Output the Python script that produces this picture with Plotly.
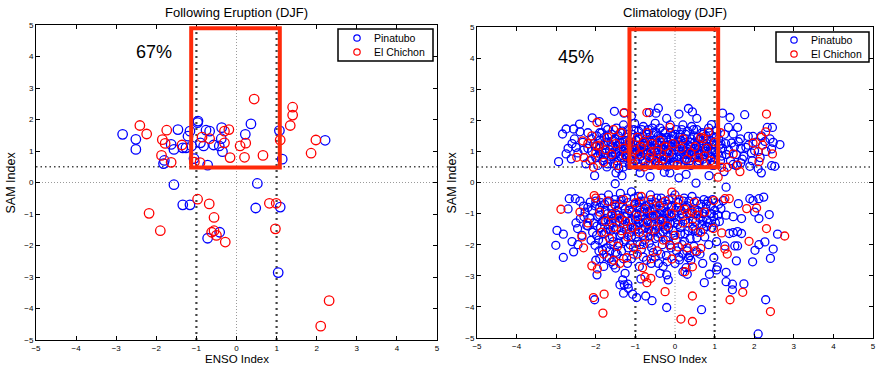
import plotly.graph_objects as go

# ---------------- Left panel: Following Eruption (DJF) ----------------
erupt_pin_x = [-2.84, -2.51, -2.51, -1.46, -1.80, -1.82, -1.63, -1.56, -1.34, -1.26, -1.21, -1.16,
               -1.12, -1.06, -0.96, -0.97, -0.90, -0.82, -0.76, -0.67, -0.72, -0.57, -0.43, -0.38,
               -0.37, -0.35, 0.22, 0.36, 1.07, 1.14, 2.21, -1.56, -1.34, -1.16, -0.72, -0.42,
               0.52, 0.48, 1.09, 1.04]
erupt_pin_y = [1.53, 1.37, 1.05, 1.68, 0.70, 0.60, 1.21, 1.05, 1.10, 1.10, 1.47, 1.63,
               1.16, 0.76, 1.95, 1.90, 1.26, 1.16, 1.66, 1.63, 0.55, 1.19, 1.16, 1.39,
               1.74, 0.98, 1.53, 1.86, 1.65, 0.74, 1.34, -0.07, -0.71, -0.71, -1.77, -1.58,
               -0.03, -0.81, -0.78, -2.86]

erupt_elc_x = [-2.41, -2.24, -1.87, -1.85, -1.78, -1.74, -1.63, -1.36, -1.05, -0.91, -0.86, -0.67,
               -0.30, -0.30, -0.19, -0.16, 0.09, 0.23, 0.20, 0.44, 0.66, 1.09, 1.34, 1.40,
               1.40, 1.86, 1.98, -0.97, -0.68, -0.56, -0.62, -0.56, -0.50, -0.28, -2.18, -1.90,
               0.82, 0.99, 0.97, 2.31, 2.10]
erupt_elc_y = [1.81, 1.54, 0.86, 1.36, 1.24, 1.66, 0.64, 1.19, 0.65, 0.63, 1.44, 1.39,
               1.26, 1.63, 1.68, 0.79, 1.16, 1.25, 0.80, 2.65, 0.86, 1.35, 1.81, 2.39,
               2.14, 0.93, 1.35, -0.53, -0.68, -1.11, -1.58, -1.53, -1.68, -1.89, -0.98, -1.53,
               -0.66, -0.66, -1.47, -3.75, -4.56]

# ---------------- Right panel: Climatology (DJF) ----------------
clim_pin = [
    # upper cluster, outer points
    (-2.94, 0.67), (-2.84, 1.56), (-2.75, 1.72), (-2.75, 0.92), (-2.62, 0.76), (-2.56, 1.72),
    (-2.54, 1.40), (-2.50, 1.13), (-2.41, 1.88), (-2.40, 1.63), (-2.33, 1.29), (-2.09, 2.08),
    (-2.03, 0.22), (-1.91, 1.96), (-1.75, 1.77), (-1.53, 2.29), (-1.29, 2.23), (-1.10, 2.14),
    (-0.65, 2.25), (-0.42, 2.39), (-0.48, 2.23), (-0.21, 2.06), (0.10, 2.20), (0.34, 2.38),
    (0.44, 2.27), (0.55, 2.06), (0.92, 1.86), (1.20, 2.23), (1.39, 2.09), (1.58, 1.77),
    (1.76, 2.18), (1.47, 1.56), (1.35, 1.77), (1.16, 1.24), (1.43, 1.27), (1.60, 1.31),
    (1.66, 1.10), (1.79, 1.13), (1.85, 1.48), (1.97, 1.48), (2.01, 1.02), (1.93, 0.95),
    (1.74, 0.84), (1.66, 0.63), (1.47, 0.58), (1.24, 0.35), (2.18, 1.50), (2.27, 1.32),
    (2.33, 1.77), (2.46, 1.77), (2.48, 1.29), (2.44, 1.08), (2.65, 1.22), (2.44, 0.54),
    (2.52, 0.52), (2.18, 0.31), (2.10, 0.44), (1.89, 0.52), (1.55, 0.54), (0.86, 0.22),
    (0.10, 0.15), (0.28, 0.26), (-0.13, 0.31), (-0.27, 0.33), (-0.63, 0.19), (-0.88, 0.31),
    (-1.34, 0.22), (-1.49, 0.31),
    # upper cluster, dense core
    (-2.10, 1.00), (-2.05, 1.25), (-2.00, 0.80), (-1.98, 1.50), (-1.95, 0.55), (-1.92, 1.10),
    (-1.90, 1.35), (-1.88, 0.90), (-1.85, 1.60), (-1.82, 0.70), (-1.80, 1.20), (-1.78, 1.45),
    (-1.75, 0.95), (-1.72, 0.50), (-1.70, 1.70), (-1.68, 1.30), (-1.65, 1.05), (-1.62, 0.75),
    (-1.60, 1.55), (-1.58, 1.15), (-1.55, 0.60), (-1.52, 1.40), (-1.50, 0.90), (-1.48, 1.75),
    (-1.45, 1.20), (-1.42, 0.45), (-1.40, 1.00), (-1.38, 1.60), (-1.35, 0.80), (-1.32, 1.30),
    (-1.30, 1.85), (-1.28, 0.65), (-1.25, 1.10), (-1.22, 1.45), (-1.20, 0.95), (-1.18, 1.70),
    (-1.15, 0.55), (-1.12, 1.25), (-1.10, 0.85), (-1.08, 1.55), (-1.05, 1.05), (-1.02, 1.90),
    (-1.00, 0.70), (-0.98, 1.35), (-0.95, 1.00), (-0.92, 1.65), (-0.90, 0.50), (-0.88, 1.20),
    (-0.85, 0.85), (-0.82, 1.50), (-0.80, 1.80), (-0.78, 1.05), (-0.75, 0.65), (-0.72, 1.40),
    (-0.70, 0.95), (-0.68, 1.70), (-0.65, 1.15), (-0.62, 0.55), (-0.60, 1.30), (-0.58, 0.80),
    (-0.55, 1.60), (-0.52, 1.00), (-0.50, 1.90), (-0.48, 0.70), (-0.45, 1.25), (-0.42, 1.50),
    (-0.40, 0.90), (-0.38, 1.75), (-0.35, 1.10), (-0.32, 0.60), (-0.30, 1.40), (-0.28, 0.85),
    (-0.25, 1.60), (-0.22, 1.00), (-0.20, 0.50), (-0.18, 1.30), (-0.15, 0.75), (-0.12, 1.85),
    (-0.10, 1.15), (-0.08, 0.90), (-0.05, 1.50), (-0.02, 0.65), (0.00, 1.05), (0.03, 1.70),
    (0.05, 0.80), (0.08, 1.30), (0.10, 1.00), (0.13, 1.55), (0.15, 0.60), (0.18, 1.20),
    (0.20, 1.85), (0.22, 0.90), (0.25, 1.40), (0.28, 0.70), (0.30, 1.10), (0.32, 1.65),
    (0.35, 0.95), (0.38, 1.30), (0.40, 0.55), (0.42, 1.80), (0.45, 1.00), (0.48, 1.50),
    (0.50, 0.80), (0.53, 1.20), (0.55, 1.70), (0.58, 0.65), (0.60, 1.05), (0.63, 1.40),
    (0.65, 0.90), (0.68, 1.60), (0.70, 0.75), (0.73, 1.25), (0.75, 1.00), (0.78, 1.50),
    (0.80, 0.60), (0.83, 1.15), (0.85, 1.75), (0.88, 0.85), (0.90, 1.35), (0.93, 1.00),
    (0.95, 0.55), (0.98, 1.45), (1.00, 0.80), (1.03, 1.20), (1.05, 1.65), (1.08, 0.95),
    (1.10, 1.40), (1.15, 0.70), (1.20, 1.10), (1.25, 1.55), (1.30, 0.90), (-1.10, 1.15),
    (-0.90, 1.05), (-0.70, 1.20), (-0.50, 1.35), (-0.30, 1.05), (-0.10, 1.40), (0.10, 0.75),
    (0.30, 0.90), (-1.60, 0.95), (-1.40, 1.30), (-1.20, 1.20), (-0.80, 0.95), (-0.60, 1.10),
    (-0.40, 1.20), (-0.20, 0.80), (0.00, 1.25), (0.20, 1.05), (0.40, 1.15), (0.60, 0.95),
    (0.80, 1.25), (-1.30, 1.00), (-1.00, 1.20), (-0.75, 1.30), (-0.55, 0.85), (-0.35, 1.45),
    (-0.15, 1.20), (0.15, 1.35), (0.50, 1.30), (0.70, 1.10),
    (-2.20, 1.10), (-2.15, 0.70), (-2.12, 1.40), (-2.00, 1.15), (-1.95, 0.85), (-1.90, 1.60),
    (-1.85, 1.00), (-1.80, 0.80), (-1.76, 1.30), (-1.70, 0.60), (-1.66, 1.50), (-1.62, 1.20),
    (-1.58, 0.85), (-1.55, 1.35), (-1.50, 1.05), (-1.47, 0.70), (-1.43, 1.50), (-1.40, 0.85),
    (-1.36, 1.15), (-1.33, 1.65), (-1.30, 0.50), (-1.26, 1.35), (-1.23, 0.80), (-1.20, 1.55),
    (-1.16, 1.05), (-1.13, 0.75), (-1.10, 1.45), (-1.07, 0.95), (-1.04, 1.70), (-1.00, 0.90),
    (-0.97, 1.20), (-0.94, 0.60), (-0.91, 1.40), (-0.87, 1.00), (-0.84, 1.70), (-0.81, 0.70),
    (-0.77, 1.20), (-0.74, 0.90), (-0.71, 1.55), (-0.67, 0.60), (-0.64, 1.35), (-0.61, 1.00),
    (-0.57, 1.75), (-0.54, 0.75), (-0.51, 1.20), (-0.47, 1.60), (-0.44, 0.80), (-0.41, 1.05),
    (-0.37, 1.30), (-0.34, 0.70), (-0.31, 1.65), (-0.27, 1.20), (-0.24, 0.65), (-0.21, 1.45),
    (-0.17, 1.05), (-0.14, 0.60), (-0.11, 1.60), (-0.07, 1.25), (-0.04, 0.80), (0.00, 1.55),
    (0.04, 1.15), (0.07, 0.60), (0.11, 1.45), (0.14, 0.90), (0.17, 1.70), (0.21, 1.25),
    (0.24, 0.75), (0.27, 1.55), (0.31, 1.00), (0.34, 1.20), (0.37, 0.70), (0.41, 1.40),
    (0.44, 0.90), (0.47, 1.70), (0.51, 1.10), (0.54, 0.85), (0.57, 1.45), (0.61, 0.70),
    (0.64, 1.20), (0.67, 1.00), (0.71, 1.55), (0.74, 0.65), (0.77, 1.10), (0.81, 1.40),
    (0.84, 0.95), (0.87, 1.60), (0.91, 0.80), (0.94, 1.20), (0.97, 0.65), (1.01, 1.00),
    (1.04, 1.45), (1.12, 1.20), (1.18, 0.85), (1.28, 1.25), (1.35, 1.05), (1.40, 0.70),
    (1.50, 1.15), (1.55, 0.90), (1.65, 1.40), (1.70, 0.75), (1.85, 1.20), (1.95, 0.70),
    (2.05, 1.30), (2.15, 0.80), (2.30, 1.00), (2.40, 1.40), (-2.30, 1.05), (-2.45, 0.95),
    (-2.60, 1.25), (-2.70, 1.10), (-2.20, 1.60), (-2.25, 0.60),
    # lower cluster, outer points
    (-3.01, -2.02), (-2.98, -1.54), (-2.82, -1.66), (-2.82, -2.41), (-2.67, -0.52), (-2.52, -0.52),
    (-2.56, -2.23), (-2.46, -1.48), (-2.39, -1.16), (-2.31, -0.76), (-2.27, -0.95), (-2.23, -1.38),
    (-2.14, -0.63), (-2.12, -1.86), (-2.02, -2.02), (-1.97, -2.97), (-2.03, -3.77), (-1.83, -2.18),
    (-1.66, -2.44), (-1.60, -2.55), (-1.55, -2.65), (-1.51, -0.04), (-1.26, -2.92), (-1.32, -3.13),
    (-1.39, -3.29), (-1.28, -3.29), (-1.19, -3.27), (-1.30, -3.56), (-1.18, -3.40), (-1.07, -3.59),
    (-0.97, -3.70), (-0.86, -3.10), (-0.74, -3.65), (-0.58, -3.80), (-0.38, -2.92), (-0.21, -2.97),
    (-0.17, -3.13), (-0.21, -4.02), (0.11, -2.49), (0.34, -2.42), (0.28, -2.74), (0.20, -2.87),
    (0.31, -2.95), (0.55, -2.23), (0.74, -3.22), (0.87, -2.95), (0.67, -4.09), (0.98, -2.42),
    (1.05, -2.81), (1.07, -2.71), (1.29, -2.89), (1.29, -3.19), (1.45, -3.27), (1.45, -3.45),
    (1.55, -2.52), (1.58, -2.04), (1.74, -3.26), (1.96, -2.55), (2.02, -2.18), (2.12, -2.00),
    (2.29, -3.77), (2.41, -2.44), (2.48, -2.14), (2.59, -1.66), (2.27, -1.91), (2.38, -1.03),
    (2.24, -0.47), (2.10, -4.87), (2.12, -1.16), (2.01, -0.95), (1.89, -0.52), (1.97, -0.58),
    (2.12, -0.52), (1.60, -0.68), (1.47, -1.10), (1.68, -1.16), (1.29, -0.15), (1.22, -0.58),
    (1.16, -0.84), (1.29, -1.05), (1.12, -1.25), (1.37, -1.64), (1.47, -1.61), (1.58, -1.58),
    (1.68, -1.64), (1.26, -2.04), (1.51, -2.04), (0.55, -1.78), (0.80, -1.41), (0.70, -1.22),
    (0.53, -0.02),
    # lower cluster, dense core
    (-2.10, -0.90), (-2.05, -1.30), (-2.00, -0.60), (-1.98, -1.70), (-1.95, -1.10), (-1.92, -2.20),
    (-1.90, -0.80), (-1.88, -1.45), (-1.85, -0.50), (-1.82, -1.90), (-1.80, -1.20), (-1.78, -0.70),
    (-1.75, -1.60), (-1.72, -2.40), (-1.70, -1.00), (-1.68, -0.40), (-1.65, -1.35), (-1.62, -2.00),
    (-1.60, -0.85), (-1.58, -1.75), (-1.55, -1.15), (-1.52, -0.55), (-1.50, -2.25), (-1.48, -1.50),
    (-1.45, -0.90), (-1.42, -1.95), (-1.40, -1.25), (-1.38, -0.35), (-1.35, -1.65), (-1.32, -0.75),
    (-1.30, -2.45), (-1.28, -1.10), (-1.25, -1.85), (-1.22, -0.50), (-1.20, -1.40), (-1.18, -2.10),
    (-1.15, -0.90), (-1.12, -1.60), (-1.10, -0.30), (-1.08, -1.20), (-1.05, -2.30), (-1.02, -0.70),
    (-1.00, -1.50), (-0.98, -1.00), (-0.95, -1.90), (-0.92, -0.45), (-0.90, -1.30), (-0.88, -0.80),
    (-0.85, -2.15), (-0.82, -1.10), (-0.80, -1.70), (-0.78, -0.60), (-0.75, -1.45), (-0.72, -2.50),
    (-0.70, -0.95), (-0.68, -1.25), (-0.65, -1.95), (-0.62, -0.40), (-0.60, -1.55), (-0.58, -0.85),
    (-0.55, -2.25), (-0.52, -1.15), (-0.50, -1.80), (-0.48, -0.65), (-0.45, -1.40), (-0.42, -2.60),
    (-0.40, -1.00), (-0.38, -1.65), (-0.35, -0.50), (-0.32, -2.00), (-0.30, -1.20), (-0.28, -0.80),
    (-0.25, -1.50), (-0.22, -2.35), (-0.20, -0.95), (-0.18, -1.75), (-0.15, -0.55), (-0.12, -1.30),
    (-0.10, -2.10), (-0.08, -0.75), (-0.05, -1.55), (-0.02, -1.05), (0.00, -0.40), (0.03, -1.85),
    (0.05, -1.20), (0.08, -0.65), (0.10, -2.40), (0.13, -1.45), (0.15, -0.90), (0.18, -2.00),
    (0.20, -1.10), (0.23, -0.50), (0.25, -1.65), (0.28, -0.80), (0.30, -2.20), (0.33, -1.30),
    (0.35, -0.60), (0.38, -1.80), (0.40, -1.00), (0.43, -0.45), (0.45, -1.50), (0.48, -2.05),
    (0.50, -0.85), (0.53, -1.25), (0.55, -0.60), (0.58, -1.60), (0.60, -0.95), (0.63, -2.30),
    (0.65, -0.70), (0.68, -1.35), (0.70, -1.00), (0.73, -0.55), (0.75, -1.75), (0.78, -0.85),
    (0.80, -1.20), (0.83, -0.60), (0.85, -2.00), (0.88, -1.00), (0.90, -0.75), (0.93, -1.45),
    (0.95, -0.55), (0.98, -1.10), (1.00, -0.90), (1.05, -1.90), (1.10, -0.70), (-1.60, -1.30),
    (-1.40, -0.70), (-1.20, -1.00), (-1.00, -1.20), (-0.90, -0.65), (-0.80, -1.30), (-0.70, -1.60),
    (-0.60, -1.10), (-0.50, -0.85), (-0.40, -1.35), (-0.30, -1.60), (-0.20, -1.15), (-0.10, -0.80),
    (0.00, -1.30), (-1.10, -1.75), (-0.95, -1.40), (-0.85, -0.95), (-0.75, -1.15), (-0.65, -0.70),
    (-0.55, -1.35), (-0.45, -1.05), (-0.35, -0.90), (-0.25, -1.30), (-0.15, -1.00), (-1.30, -1.35),
    (-1.50, -1.00), (-1.70, -1.50), (-1.90, -1.05), (-2.20, -1.40), (-2.30, -1.10), (-2.35, -1.70),
    (-2.00, -2.50), (-1.80, -2.70), (-1.50, -2.75), (-1.20, -2.60), (-0.90, -2.70), (-0.60, -2.60),
    (-0.30, -2.70), (0.00, -2.60), (0.40, -2.50), (0.70, -2.60),
    (-2.20, -0.80), (-2.15, -1.15), (-2.08, -1.60), (-2.02, -0.75), (-1.97, -1.40), (-1.93, -1.85),
    (-1.87, -0.65), (-1.83, -1.25), (-1.79, -1.65), (-1.76, -0.90), (-1.73, -2.10), (-1.69, -1.20),
    (-1.66, -0.60), (-1.63, -1.55), (-1.59, -1.00), (-1.56, -1.90), (-1.53, -0.70), (-1.49, -1.30),
    (-1.46, -2.30), (-1.43, -1.05), (-1.39, -1.70), (-1.36, -0.55), (-1.33, -1.20), (-1.29, -1.90),
    (-1.26, -0.85), (-1.23, -1.50), (-1.19, -0.65), (-1.16, -1.25), (-1.13, -2.00), (-1.09, -0.95),
    (-1.06, -1.45), (-1.03, -0.50), (-0.99, -1.75), (-0.96, -0.80), (-0.93, -1.20), (-0.89, -2.00),
    (-0.86, -0.60), (-0.83, -1.50), (-0.79, -0.95), (-0.76, -1.85), (-0.73, -0.75), (-0.69, -1.20),
    (-0.66, -1.50), (-0.63, -0.90), (-0.59, -2.10), (-0.56, -0.70), (-0.53, -1.60), (-0.49, -1.05),
    (-0.46, -0.50), (-0.43, -1.75), (-0.39, -1.20), (-0.36, -2.30), (-0.33, -0.65), (-0.29, -1.40),
    (-0.26, -1.00), (-0.23, -1.85), (-0.19, -0.70), (-0.16, -1.45), (-0.13, -2.00), (-0.09, -1.10),
    (-0.06, -0.50), (-0.03, -1.70), (0.01, -0.90), (0.04, -2.20), (0.07, -1.35), (0.11, -0.80),
    (0.14, -1.65), (0.17, -1.00), (0.21, -0.60), (0.24, -1.90), (0.27, -1.20), (0.31, -0.75),
    (0.34, -1.55), (0.37, -2.35), (0.41, -0.90), (0.44, -1.20), (0.51, -1.55), (0.57, -0.90),
    (0.64, -1.15), (0.72, -1.50), (0.79, -0.70), (0.86, -1.30), (0.92, -1.00), (1.02, -1.30),
    (1.08, -1.05), (-2.40, -0.60), (-2.50, -1.30), (-2.60, -1.90), (-2.70, -0.85), (-2.45, -2.00),
    (-1.90, -2.45), (-1.65, -2.20), (-1.35, -2.20), (-1.10, -2.45), (-0.80, -2.40), (-0.50, -2.40),
    (-0.20, -2.55), (0.20, -2.30),
]

clim_elc = [
    # upper cluster
    (-2.48, 0.81), (-2.33, 1.34), (-2.10, 1.50), (-2.06, 0.49), (-1.97, 1.18), (-1.97, 1.93),
    (-1.28, 2.25), (-0.71, 2.25), (-0.13, 1.77), (0.84, 1.63), (0.71, 1.41), (1.15, 1.60),
    (1.32, 0.49), (1.47, 0.92), (1.09, 0.17), (1.18, 0.49), (1.58, 0.56), (1.64, 0.35),
    (1.97, 1.27), (2.10, 0.99), (2.12, 0.67), (2.18, 1.45), (2.29, 1.63), (2.31, 2.20),
    (2.21, 1.20), (2.46, 0.92),
    (-1.90, 1.20), (-1.80, 0.65), (-1.70, 1.45), (-1.60, 0.90), (-1.50, 1.25), (-1.45, 0.55),
    (-1.35, 1.60), (-1.25, 0.85), (-1.15, 1.30), (-1.05, 0.60), (-0.95, 1.45), (-0.90, 0.90),
    (-0.85, 1.15), (-0.78, 0.50), (-0.70, 1.60), (-0.65, 0.80), (-0.58, 1.25), (-0.50, 0.65),
    (-0.45, 1.00), (-0.38, 1.35), (-0.30, 0.75), (-0.25, 1.15), (-0.15, 0.95), (-0.05, 1.25),
    (0.05, 0.55), (0.15, 1.10), (0.30, 0.75), (0.40, 0.95), (0.50, 1.15), (0.55, 0.60),
    (0.65, 1.45), (0.75, 0.85), (0.80, 1.10), (0.90, 0.70), (1.00, 1.30), (-2.00, 0.95),
    (-1.75, 1.05), (-1.55, 1.70), (-1.30, 1.10), (-1.00, 1.05), (-0.80, 1.30), (-0.60, 0.95),
    (-0.40, 0.55), (0.20, 1.40), (0.60, 0.80), (-1.10, 0.75), (-2.10, 0.75), (-2.20, 1.25),
    (-2.30, 0.80),
    # lower cluster
    (-2.88, -0.86), (-2.35, -1.75), (-2.31, -2.10), (-2.10, -2.68), (-1.96, -2.78), (-2.06, -3.70),
    (-1.82, -4.20), (-1.79, -3.59), (-2.04, -0.42), (-1.22, -2.42), (-1.39, -2.60), (-0.82, -2.74),
    (-0.76, -3.03), (-0.71, -3.22), (-0.61, -3.08), (-0.25, -3.51), (0.15, -4.39), (0.44, -4.47),
    (0.44, -3.65), (0.25, -2.87), (0.44, -2.71), (-0.08, -2.46), (-0.13, -2.02), (0.08, -2.07),
    (0.31, -2.10), (0.52, -2.20), (0.65, -2.12), (0.97, -1.48), (1.18, -1.62), (1.26, -2.14),
    (1.32, -2.30), (1.39, -3.77), (1.71, -3.53), (1.87, -1.89), (1.81, -0.84), (2.06, -0.82),
    (2.31, -1.48), (2.41, -4.15), (2.77, -1.72), (1.37, -0.52), (0.98, -0.58), (1.26, -0.52),
    (0.49, -0.63), (0.44, -0.95), (0.25, -0.86), (0.04, -0.79), (-0.08, -0.31),
    (-2.00, -0.50), (-1.90, -0.95), (-1.85, -1.60), (-1.75, -1.25), (-1.70, -0.60), (-1.65, -1.80),
    (-1.60, -1.05), (-1.55, -1.45), (-1.50, -0.75), (-1.45, -2.05), (-1.40, -1.15), (-1.35, -1.55),
    (-1.30, -0.55), (-1.25, -1.25), (-1.20, -1.75), (-1.15, -0.85), (-1.10, -1.45), (-1.05, -2.10),
    (-1.00, -0.65), (-0.95, -1.10), (-0.90, -1.60), (-0.85, -0.45), (-0.80, -2.00), (-0.75, -0.85),
    (-0.70, -1.30), (-0.65, -1.75), (-0.60, -0.55), (-0.55, -1.05), (-0.50, -1.50), (-0.45, -2.20),
    (-0.40, -0.75), (-0.35, -1.25), (-0.30, -1.85), (-0.25, -0.60), (-0.20, -1.40), (-0.10, -1.00),
    (0.00, -1.70), (0.10, -0.55), (0.20, -1.30), (0.30, -1.00), (0.45, -1.40), (0.55, -1.05),
    (0.65, -1.60), (0.75, -0.95), (-1.80, -2.30), (-2.20, -1.30), (-2.40, -0.95), (-1.55, -2.50),
    (-0.95, -2.30), (-0.60, -2.45),
]
clim_pin_x = [p[0] for p in clim_pin]
clim_pin_y = [p[1] for p in clim_pin]
clim_elc_x = [p[0] for p in clim_elc]
clim_elc_y = [p[1] for p in clim_elc]

tick_vals = [-5, -4, -3, -2, -1, 0, 1, 2, 3, 4, 5]
panel_titles = ["Following Eruption (DJF)", "Climatology (DJF)"]
pct_labels = ["67%", "45%"]
pct_pos = [(-2.05, 4.15), (-2.5, 4.05)]
series_names = ["Pinatubo", "El Chichon"]

BLUE = "#0000ff"
RED = "#ff0000"
BOX = "#ff2a0a"
FONT = "Liberation Sans, Arial, sans-serif"
W, H = 876, 366

fig = go.Figure()

def add_scatter(x, y, color, name, xa, ya, size):
    fig.add_trace(go.Scatter(
        x=x, y=y, mode="markers", name=name, xaxis=xa, yaxis=ya, showlegend=False,
        marker=dict(symbol="circle-open", size=size, color=color, line=dict(width=1.3, color=color)),
    ))

add_scatter(erupt_pin_x, erupt_pin_y, BLUE, series_names[0], "x", "y", 9.5)
add_scatter(erupt_elc_x, erupt_elc_y, RED, series_names[1], "x", "y", 9.5)
add_scatter(clim_pin_x, clim_pin_y, BLUE, series_names[0], "x2", "y2", 8)
add_scatter(clim_elc_x, clim_elc_y, RED, series_names[1], "x2", "y2", 8)

axis_common = dict(
    range=[-5, 5], tickvals=tick_vals, ticks="inside", ticklen=4, tickwidth=1,
    tickcolor="black", showline=True, linecolor="black", linewidth=1, mirror="ticks",
    showgrid=False, zeroline=False, tickfont=dict(size=8, color="black", family=FONT),
    automargin=False, fixedrange=True,
)

left_px = (36, 437, 25, 340)
right_px = (477, 873, 27, 338)

def dom(px):
    x0, x1, yt, yb = px
    return [x0 / W, x1 / W], [1 - yb / H, 1 - yt / H]

lx, ly = dom(left_px)
rx, ry = dom(right_px)

fig.update_layout(
    width=W, height=H, margin=dict(l=0, r=0, t=0, b=0),
    paper_bgcolor="white", plot_bgcolor="white",
    font=dict(family=FONT, color="black"),
    xaxis=dict(domain=lx, anchor="y", ticklabelstandoff=0, **axis_common),
    yaxis=dict(domain=ly, anchor="x", **axis_common),
    xaxis2=dict(domain=rx, anchor="y2", ticklabelstandoff=0, **axis_common),
    yaxis2=dict(domain=ry, anchor="x2", **axis_common),
    showlegend=False,
)

def px2paper(px, py):
    return px / W, 1 - py / H

shapes = []
for xr, yr in (("x", "y"), ("x2", "y2")):
    shapes.append(dict(type="line", xref=xr, yref=yr, x0=-5, x1=5, y0=0, y1=0,
                       line=dict(color="#9a9a9a", width=1, dash="1px,2px"), layer="below"))
    shapes.append(dict(type="line", xref=xr, yref=yr, x0=0, x1=0, y0=-5, y1=5,
                       line=dict(color="#9a9a9a", width=1, dash="1px,2px"), layer="below"))
    shapes.append(dict(type="line", xref=xr, yref=yr, x0=-5, x1=5, y0=0.5, y1=0.5,
                       line=dict(color="#444444", width=1.5, dash="1.5px,3px"), layer="below"))
    for xv in (-1, 1):
        shapes.append(dict(type="line", xref=xr, yref=yr, x0=xv, x1=xv, y0=-5, y1=4.9,
                           line=dict(color="#444444", width=2.2, dash="2px,4px"), layer="below"))
shapes.append(dict(type="rect", xref="x", yref="y", x0=-1.13, x1=1.08, y0=0.48, y1=4.9,
                   line=dict(color=BOX, width=4), fillcolor="rgba(0,0,0,0)", layer="above"))
shapes.append(dict(type="rect", xref="x2", yref="y2", x0=-1.15, x1=1.09, y0=0.49, y1=4.93,
                   line=dict(color=BOX, width=4), fillcolor="rgba(0,0,0,0)", layer="above"))

annotations = []
# legend boxes (MATLAB style), drawn in paper coordinates
legend_boxes = [  # box left, box right, box top, box bottom, marker x, text x, row1 y, row2 y
    (338, 433, 29, 61, 357, 372, 38, 52),
    (776, 869, 32, 62, 794, 809, 40, 54),
]
for bx0, bx1, by0, by1, mx, tx, r1, r2 in legend_boxes:
    a0, b0 = px2paper(bx0, by1)
    a1, b1 = px2paper(bx1, by0)
    shapes.append(dict(type="rect", xref="paper", yref="paper", x0=a0, x1=a1, y0=b0, y1=b1,
                       line=dict(color="black", width=1.5), fillcolor="white", layer="above"))
    for ry_, col, name in ((r1, BLUE, series_names[0]), (r2, RED, series_names[1])):
        c0 = px2paper(mx - 3.2, ry_ + 3.2)
        c1 = px2paper(mx + 3.2, ry_ - 3.2)
        shapes.append(dict(type="circle", xref="paper", yref="paper", x0=c0[0], x1=c1[0], y0=c0[1], y1=c1[1],
                           line=dict(color=col, width=1.2), fillcolor="rgba(0,0,0,0)", layer="above"))
        tpx, tpy = px2paper(tx, ry_)
        annotations.append(dict(text=name, x=tpx, y=tpy, xref="paper", yref="paper", showarrow=False,
                                font=dict(size=10.5, family=FONT), xanchor="left", yanchor="middle"))
fig.update_layout(shapes=shapes)

for xd, title in zip((lx, rx), panel_titles):
    annotations.append(dict(text=title, x=(xd[0] + xd[1]) / 2, y=1 - 12 / H, xref="paper", yref="paper",
                            showarrow=False, font=dict(size=13, family=FONT), xanchor="center", yanchor="middle"))
    annotations.append(dict(text="ENSO Index", x=(xd[0] + xd[1]) / 2, y=0, xref="paper", yref="paper",
                            showarrow=False, font=dict(size=11.5, family=FONT), xanchor="center", yanchor="bottom",
                            borderpad=0))
for xpx, ypx0, ypx1 in ((11, 25, 340), (452, 27, 338)):
    annotations.append(dict(text="SAM Index", x=xpx / W, y=1 - (ypx0 + ypx1) / 2 / H, xref="paper", yref="paper",
                            showarrow=False, textangle=-90, font=dict(size=12.5, family=FONT),
                            xanchor="center", yanchor="middle"))
for (px, py), lbl, xr, yr in zip(pct_pos, pct_labels, ("x", "x2"), ("y", "y2")):
    annotations.append(dict(text=lbl, x=px, y=py, xref=xr, yref=yr, showarrow=False,
                            font=dict(size=18, family=FONT), xanchor="center", yanchor="middle"))
fig.update_layout(annotations=annotations)

fig.write_html("out.html")
